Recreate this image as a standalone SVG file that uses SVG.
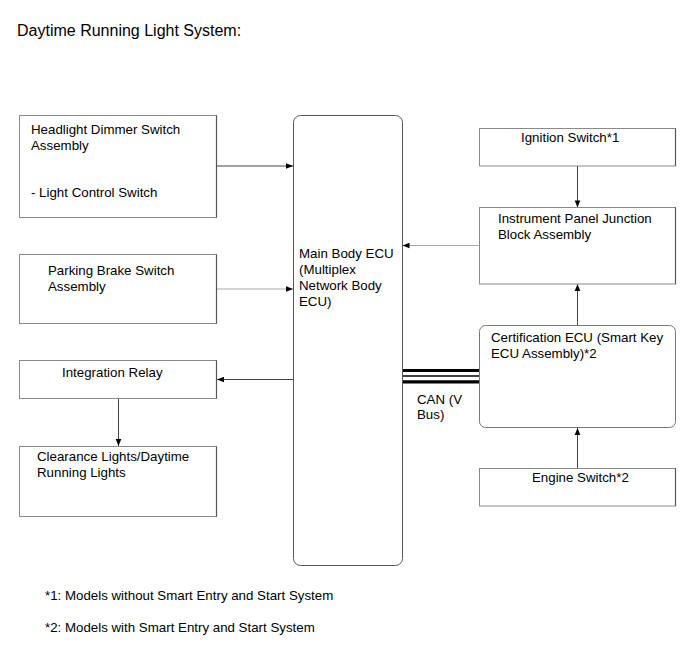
<svg xmlns="http://www.w3.org/2000/svg" width="690" height="659" viewBox="0 0 690 659">
<defs>
<style>
text{font-family:"Liberation Sans",Arial,sans-serif;font-size:13.3px;fill:#000}
.title{font-size:16px}
.box{fill:#fff;stroke:#8a8a8a;stroke-width:1}
.edge{stroke:#555;stroke-width:1.2}
.ln{stroke:#444;stroke-width:1;fill:none}
.lg{stroke:#aaa;stroke-width:1.2;fill:none}
</style>
<marker id="ah" viewBox="0 0 10 10" refX="10" refY="5" markerWidth="9" markerHeight="7" markerUnits="userSpaceOnUse" orient="auto">
<path d="M0,1 L10,5 L0,9 Z" fill="#000"/>
</marker>
</defs>
<rect width="690" height="659" fill="#fff"/>
<text class="title" x="17" y="36">Daytime Running Light System:</text>

<g id="connectors">
<line class="ln" x1="216.5" y1="166" x2="293" y2="166" marker-end="url(#ah)"/>
<line class="lg" x1="216.5" y1="289" x2="293" y2="289" marker-end="url(#ah)"/>
<line class="ln" x1="293" y1="379.5" x2="217" y2="379.5" marker-end="url(#ah)"/>
<line class="ln" x1="118.5" y1="398.5" x2="118.5" y2="446" marker-end="url(#ah)"/>
<line class="ln" x1="577.5" y1="166" x2="577.5" y2="207.5" marker-end="url(#ah)"/>
<line class="lg" x1="479" y1="245.5" x2="402.5" y2="245.5" marker-end="url(#ah)"/>
<line class="ln" x1="577.5" y1="325" x2="577.5" y2="284" marker-end="url(#ah)"/>
<line class="ln" x1="577.5" y1="468.5" x2="577.5" y2="428" marker-end="url(#ah)"/>
<g id="can">
<line x1="402.5" y1="370.5" x2="479.5" y2="370.5" stroke="#000" stroke-width="3.2"/>
<line x1="402.5" y1="376" x2="479.5" y2="376" stroke="#000" stroke-width="1.6"/>
<line x1="402.5" y1="381.8" x2="479.5" y2="381.8" stroke="#000" stroke-width="3.2"/>
</g>
<text x="417" y="404">CAN (V</text>
<text x="417" y="419">Bus)</text>
</g>

<g id="headlight">
<rect class="box" x="19.5" y="115.5" width="197" height="102"/>
<line class="edge" x1="216.5" y1="115.5" x2="216.5" y2="217.5"/>
<text x="31" y="134">Headlight Dimmer Switch</text>
<text x="31" y="150">Assembly</text>
<text x="31" y="197">- Light Control Switch</text>
</g>

<g id="parking">
<rect class="box" x="19.5" y="254.5" width="197" height="69"/>
<line class="edge" x1="216.5" y1="254.5" x2="216.5" y2="323.5"/>
<text x="48" y="275">Parking Brake Switch</text>
<text x="48" y="291">Assembly</text>
</g>

<g id="relay">
<rect class="box" x="19.5" y="360.5" width="197" height="38"/>
<line class="edge" x1="216.5" y1="360.5" x2="216.5" y2="398.5"/>
<text x="62" y="377">Integration Relay</text>
</g>

<g id="clearance">
<rect class="box" x="19.5" y="446.5" width="197" height="70"/>
<line class="edge" x1="216.5" y1="446.5" x2="216.5" y2="516.5"/>
<text x="37" y="461">Clearance Lights/Daytime</text>
<text x="37" y="477">Running Lights</text>
</g>

<g id="ecu">
<rect x="293.5" y="115.5" width="109" height="450" rx="7" ry="7" fill="#fff" stroke="#555" stroke-width="1"/>
<text x="299" y="258">Main Body ECU</text>
<text x="299" y="274">(Multiplex</text>
<text x="299" y="290">Network Body</text>
<text x="299" y="306">ECU)</text>
</g>

<g id="ignition">
<rect class="box" x="479.5" y="128.5" width="196" height="37.5"/>
<line class="edge" x1="675.5" y1="128.5" x2="675.5" y2="166"/>
<text x="521" y="142">Ignition Switch*1</text>
</g>

<g id="ipjb">
<rect class="box" x="479.5" y="207.5" width="196" height="76.5"/>
<line class="edge" x1="675.5" y1="207.5" x2="675.5" y2="284"/>
<text x="498" y="223">Instrument Panel Junction</text>
<text x="498" y="239">Block Assembly</text>
</g>

<g id="cert">
<rect x="479.5" y="325.5" width="196" height="102" rx="6" ry="6" fill="#fff" stroke="#777" stroke-width="1"/>
<text x="491" y="342">Certification ECU (Smart Key</text>
<text x="491" y="358">ECU Assembly)*2</text>
</g>

<g id="engine">
<rect class="box" x="479.5" y="468.5" width="196" height="37.5"/>
<line class="edge" x1="675.5" y1="468.5" x2="675.5" y2="506"/>
<text x="532" y="482">Engine Switch*2</text>
</g>

<text x="45" y="600">*1: Models without Smart Entry and Start System</text>
<text x="45" y="632">*2: Models with Smart Entry and Start System</text>
</svg>
